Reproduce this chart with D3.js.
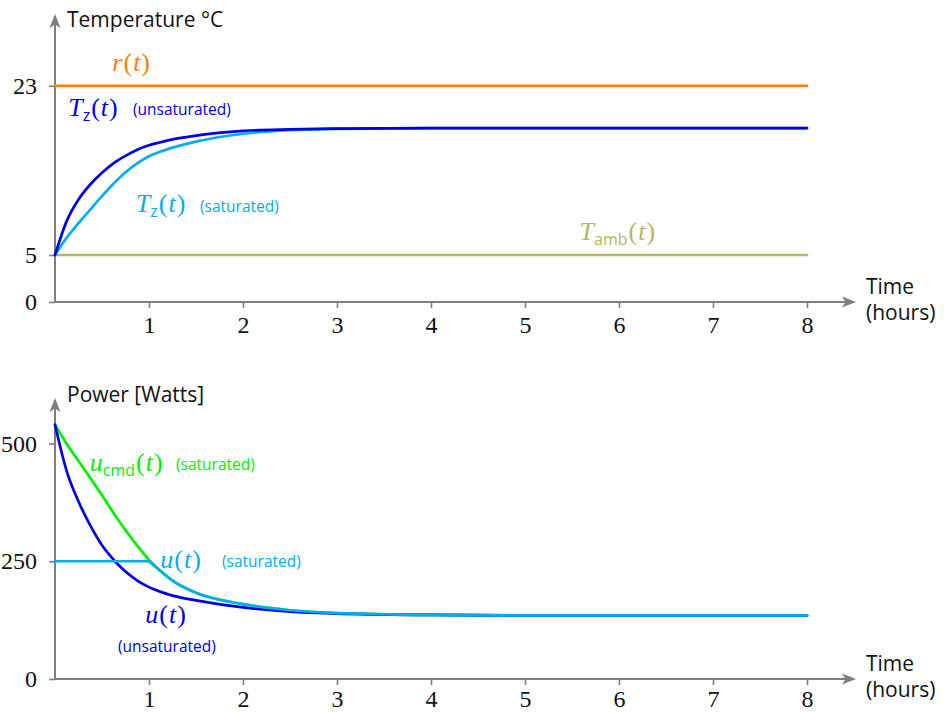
<!DOCTYPE html>
<html><head><meta charset="utf-8">
<script src="https://cdn.jsdelivr.net/npm/d3@7"></script>
<style>
body{margin:0;background:#fff}
svg{display:block}
</style></head><body>
<svg id="chart" width="944" height="712"></svg>
<script>
// Zone temperature and heater power over an 8-hour warm-up
const hours = [0, 0.125, 0.25, 0.375, 0.5, 0.625, 0.75, 0.875, 1, 1.125, 1.25, 1.5, 2, 2.5, 3, 4, 5, 6, 7, 8];
const setpoint = 23;
const ambient = 5;
const tempUnsat = [5, 8.63, 10.9, 12.5, 13.75, 14.78, 15.55, 16.2, 16.67, 17.0, 17.3, 17.7, 18.2, 18.37, 18.45, 18.5, 18.5, 18.5, 18.5, 18.5];
const tempSat = [5, 6.85, 8.38, 9.83, 11.26, 12.6, 13.8, 14.75, 15.5, 16.0, 16.42, 17.06, 17.9, 18.28, 18.42, 18.5, 18.5, 18.5, 18.5, 18.5];
const powerUnsat = [540, 441, 377, 326, 284, 253, 228, 209, 195, 185, 177, 167, 152, 143, 139, 136, 135, 135, 135, 135];
const powerCmd = [540, 499, 463, 427, 390, 352, 316, 283, 253, 229, 209, 183, 159, 146, 140, 136, 135, 135, 135, 135];
const powerSat = [250, 250, 250, 250, 250, 250, 250, 250, 250, 229, 209, 183, 159, 146, 140, 136, 135, 135, 135, 135];
const powerLimit = 250;
const hourTicks = [1, 2, 3, 4, 5, 6, 7, 8];
const tempTicks = [0, 5, 23];
const powerTicks = [0, 250, 500];

const C = {
  axis: "#7f7f7f",
  orange: "#ff8000",
  blue: "#0000e6",
  cyan: "#00aeef",
  green: "#00ee00",
  olive: "#b8b65c",
  text: "#111"
};
const SERIF = "'Liberation Serif', 'Times New Roman', serif";
const SANS = "'Open Sans', 'Noto Sans', sans-serif";

const svg = d3.select("#chart");

const x = d3.scaleLinear([0, 8], [55, 807]);
const yTemp = d3.scaleLinear([0, 23], [302, 85.8]);
const yPow = d3.scaleLinear([0, 500], [679, 443.5]);

function arrowHead(g, px, py, angle) {
  g.append("path")
    .attr("d", "M0,0 L-14,-5.5 L-10.5,0 L-14,5.5 Z")
    .attr("fill", C.axis)
    .attr("transform", `translate(${px},${py}) rotate(${angle})`);
}

function frame(y, yTicks, yTop, title, titleY, labelPad) {
  const g = svg.append("g");
  // x axis
  const xAxis = d3.axisBottom(x).tickValues(hourTicks).tickSize(6).tickSizeOuter(0).tickPadding(labelPad)
    .tickFormat(d3.format("d"));
  const gx = g.append("g").attr("transform", `translate(0,${y(0)})`).call(xAxis);
  gx.select(".domain").remove();
  gx.selectAll(".tick line").attr("stroke", C.axis).attr("stroke-width", 1.6);
  gx.selectAll(".tick text").attr("font-family", SERIF).attr("font-size", 24).attr("fill", C.text);
  g.append("line").attr("x1", x(0)).attr("x2", 852).attr("y1", y(0)).attr("y2", y(0))
    .attr("stroke", C.axis).attr("stroke-width", 2);
  arrowHead(g, 856, y(0), 0);
  // y axis
  const yAxis = d3.axisLeft(y).tickValues(yTicks).tickSize(6).tickSizeOuter(0).tickPadding(12)
    .tickFormat(d3.format("d"));
  const gy = g.append("g").attr("transform", `translate(${x(0)},0)`).call(yAxis);
  gy.select(".domain").remove();
  gy.selectAll(".tick line").attr("stroke", C.axis).attr("stroke-width", 1.6);
  gy.selectAll(".tick text").attr("font-family", SERIF).attr("font-size", 24).attr("fill", C.text);
  g.append("line").attr("x1", x(0)).attr("x2", x(0)).attr("y1", y(0) + 1).attr("y2", yTop + 4)
    .attr("stroke", C.axis).attr("stroke-width", 2);
  arrowHead(g, x(0), yTop, -90);
  // titles
  g.append("text").attr("x", 67).attr("y", titleY).attr("font-family", SANS).attr("font-size", 21)
    .attr("fill", C.text).text(title);
  const tt = g.append("text").attr("font-family", SANS).attr("font-size", 21).attr("fill", C.text);
  tt.append("tspan").attr("x", 866).attr("y", y(0) - 8).text("Time");
  tt.append("tspan").attr("x", 866).attr("y", y(0) + 18).text("(hours)");
  return g;
}

function series(g, xs, ys, yScale, color, curve) {
  g.append("path")
    .datum(xs.map((t, i) => [t, ys[i]]))
    .attr("fill", "none").attr("stroke", color).attr("stroke-width", 2.7)
    .attr("stroke-linejoin", "round").attr("stroke-linecap", "round")
    .attr("d", d3.line().x(d => x(d[0])).y(d => yScale(d[1])).curve(curve || d3.curveMonotoneX));
}

// math-style label: italic serif symbols, sans subscripts, upright parentheses
function mathLabel(g, px, py, color, pieces) {
  const t = g.append("text").attr("x", px).attr("y", py).attr("fill", color)
    .attr("font-family", SERIF).attr("font-size", 26);
  let shifted = false;
  pieces.forEach(([s, kind]) => {
    const sp = t.append("tspan").text(s);
    if (kind === "sub") {
      sp.attr("font-family", SANS).attr("font-size", 16).attr("dy", 5);
      shifted = true;
    } else {
      if (shifted) { sp.attr("dy", -5); shifted = false; }
      sp.attr("font-style", kind === "it" ? "italic" : "normal");
      if (kind === "rm") sp.attr("dx", 1);
      if (kind === "it" && s === "t") sp.attr("dx", 1);
    }
  });
  return t;
}
function note(g, px, py, color, s) {
  g.append("text").attr("x", px).attr("y", py).attr("fill", color)
    .attr("font-family", SANS).attr("font-size", 15.5).text(s);
}

// ---------- temperature panel ----------
const gT = frame(yTemp, tempTicks, 14, "Temperature \u00B0C", 27, 8);
const flat = [0, 8];
series(gT, flat, flat.map(() => ambient), yTemp, C.olive, d3.curveLinear);
series(gT, flat, flat.map(() => setpoint), yTemp, C.orange, d3.curveLinear);
series(gT, hours, tempSat, yTemp, C.cyan);
series(gT, hours, tempUnsat, yTemp, C.blue);

mathLabel(gT, x(0.61), yTemp(setpoint) - 15, C.orange, [["r", "it"], ["(", "rm"], ["t", "it"], [")", "rm"]]);
mathLabel(gT, x(0.14), yTemp(setpoint) + 30, C.blue, [["T", "it"], ["z", "sub"], ["(", "rm"], ["t", "it"], [")", "rm"]]);
note(gT, 133, yTemp(setpoint) + 29, C.blue, "(unsaturated)");
mathLabel(gT, x(0.86), yTemp(ambient) - 43, C.cyan, [["T", "it"], ["z", "sub"], ["(", "rm"], ["t", "it"], [")", "rm"]]);
note(gT, 200, yTemp(ambient) - 43, C.cyan, "(saturated)");
mathLabel(gT, x(5.58), yTemp(ambient) - 15, C.olive, [["T", "it"], ["amb", "sub"], ["(", "rm"], ["t", "it"], [")", "rm"]]);

// ---------- power panel ----------
const gP = frame(yPow, powerTicks, 398, "Power [Watts]", 402, 5);
series(gP, hours, powerCmd, yPow, C.green);
series(gP, hours, powerUnsat, yPow, C.blue);
// saturated power: held at the limit, then following the command
const knee = powerSat.findIndex(v => v < powerLimit) - 1;
series(gP, hours.slice(0, knee + 1), powerSat.slice(0, knee + 1), yPow, C.cyan, d3.curveLinear);
series(gP, hours.slice(knee), powerSat.slice(knee), yPow, C.cyan);

mathLabel(gP, x(0.37), yPow(441), C.green, [["u", "it"], ["cmd", "sub"], ["(", "rm"], ["t", "it"], [")", "rm"]]);
note(gP, 176, yPow(443), C.green, "(saturated)");
mathLabel(gP, x(1.12), yPow(powerLimit) + 7, C.cyan, [["u", "it"], ["(", "rm"], ["t", "it"], [")", "rm"]]);
note(gP, 222, yPow(powerLimit) + 6, C.cyan, "(saturated)");
mathLabel(gP, x(0.96), yPow(119), C.blue, [["u", "it"], ["(", "rm"], ["t", "it"], [")", "rm"]]);
note(gP, 118, yPow(57), C.blue, "(unsaturated)");
</script>
</body></html>
